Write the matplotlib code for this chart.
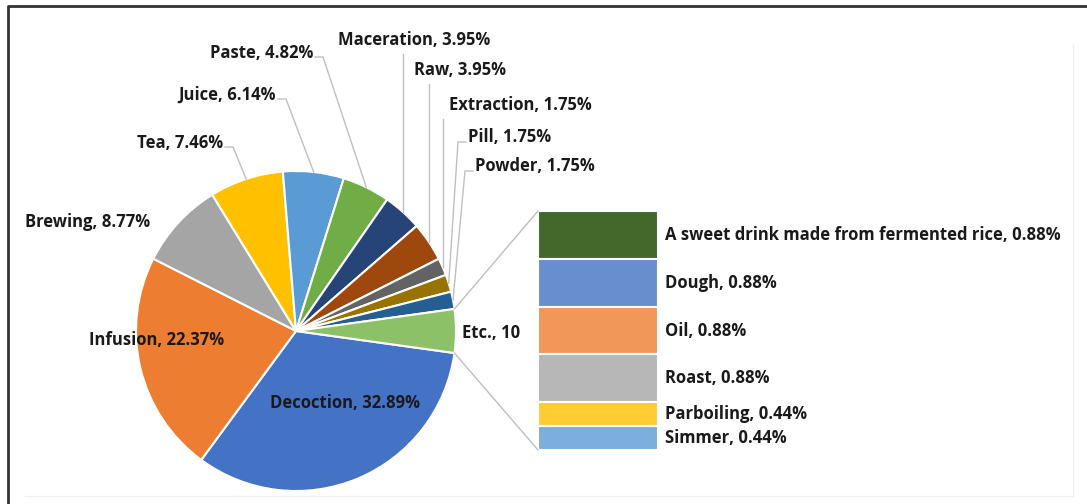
import matplotlib.pyplot as plt
import numpy as np

# pie data (clockwise from the right, "Etc." collects the small ones)
labels = ['Decoction', 'Infusion', 'Brewing', 'Tea', 'Juice', 'Paste',
          'Maceration', 'Raw', 'Extraction', 'Pill', 'Powder', 'Etc.']
values = [32.89, 22.37, 8.77, 7.46, 6.14, 4.82, 3.95, 3.95, 1.75, 1.75, 1.75, 4.40]
pie_texts = ['Decoction, 32.89%', 'Infusion, 22.37%', 'Brewing, 8.77%', 'Tea, 7.46%',
             'Juice, 6.14%', 'Paste, 4.82%', 'Maceration, 3.95%', 'Raw, 3.95%',
             'Extraction, 1.75%', 'Pill, 1.75%', 'Powder, 1.75%', 'Etc., 10']
pie_colors = ['#4472C4', '#ED7D31', '#A5A5A5', '#FFC000', '#5B9BD5', '#70AD47',
              '#264478', '#9E480E', '#636363', '#997300', '#255E91', '#8CC168']

# bar data (breakdown of Etc.)
etc_labels = ['A sweet drink made from fermented rice', 'Dough', 'Oil', 'Roast',
              'Parboiling', 'Simmer']
etc_values = [0.88, 0.88, 0.88, 0.88, 0.44, 0.44]
etc_colors = ['#43682B', '#698ED0', '#F1975A', '#B7B7B7', '#FFCD33', '#7CAFDD']

W, H = 1087, 504
plt.rcParams['font.family'] = ['Open Sans', 'DejaVu Sans']
fig = plt.figure(figsize=(W / 100, H / 100), dpi=100)
ax = fig.add_axes([0, 0, 1, 1])


def P(x, y):
    # pixel (top-left origin) -> data
    return x, H - y


cx, cy = P(296, 331)
r = 160
etc_span = values[-1] / sum(values) * 360
start = -etc_span / 2
wedges, _ = ax.pie(values, colors=pie_colors, startangle=start, counterclock=False,
                   radius=r, center=(cx, cy), frame=True,
                   wedgeprops=dict(edgecolor='white', linewidth=1.5))
ax.set_xlim(0, W)
ax.set_ylim(0, H)
ax.set_aspect('equal')
ax.axis('off')

# mid angles of wedges
mids = [(w.theta1 + w.theta2) / 2 for w in wedges]


def edge(i, rr=r):
    a = np.deg2rad(mids[i])
    return cx + rr * np.cos(a), cy + rr * np.sin(a)


fs = 12
lab_kw = dict(fontsize=fs, fontweight='bold', color='#1a1a1a', va='center')
line_kw = dict(color='#bfbfbf', lw=1)

# inside / free labels
ax.text(*P(345, 403), pie_texts[0], ha='center', **lab_kw)
ax.text(*P(157, 340), pie_texts[1], ha='center', **lab_kw)
ax.text(*P(88, 222), pie_texts[2], ha='center', **lab_kw)
ax.text(*P(462, 333), pie_texts[11], ha='left', **lab_kw)

# left-side labels with leader lines (label right end, y)
for i, (xr, yl) in zip([3, 4, 5], [(223, 143), (276, 95), (313, 53)]):
    ax.text(*P(xr, yl), pie_texts[i], ha='right', **lab_kw)
    ex, ey = edge(i)
    x0, y0 = P(xr + 2, yl + 4)
    ax.plot([x0, x0 + 8, ex], [y0, y0, ey], **line_kw)

# top labels with vertical leader lines (label left, y)
for i, (xl, yl) in zip([6, 7, 8], [(338, 40), (414, 70), (449, 105)]):
    ax.text(*P(xl, yl), pie_texts[i], ha='left', **lab_kw)
    ex, ey = edge(i)
    ax.plot([ex, ex], [P(0, yl + 14)[1], ey], **line_kw)

# small labels with a short stub to the left
for i, (xl, yl), xs in zip([9, 10], [(468, 137), (475, 166)], [458, 465]):
    ax.text(*P(xl, yl), pie_texts[i], ha='left', **lab_kw)
    ex, ey = edge(i)
    x0, y0 = P(xl - 2, yl + 5)
    x1, _ = P(xs, 0)
    ax.plot([x0, x1, ex], [y0, y0, ey], **line_kw)

# stacked bar for Etc.
bx0, bx1 = 538, 658
btop, bbot = P(0, 211)[1], P(0, 450)[1]
scale = (btop - bbot) / sum(etc_values)
tops = btop - np.concatenate([[0], np.cumsum(etc_values)[:-1]]) * scale
heights = np.array(etc_values) * scale
ax.bar((bx0 + bx1) / 2, -heights, width=bx1 - bx0, bottom=tops, color=etc_colors,
       edgecolor='white', linewidth=1.5)
for t, h, lab, v in zip(tops, heights, etc_labels, etc_values):
    ax.text(bx1 + 7, t - h / 2, f'{lab}, {v:.2f}%', ha='left', **lab_kw)

# connector lines from Etc. wedge to bar
a1, a2 = np.deg2rad(wedges[-1].theta1), np.deg2rad(wedges[-1].theta2)
ax.plot([cx + r * np.cos(a2), bx0], [cy + r * np.sin(a2), btop], **line_kw)
ax.plot([cx + r * np.cos(a1), bx0], [cy + r * np.sin(a1), bbot], **line_kw)

# frame
ax.plot([8, 8, W], [0, H - 6, H - 6], color='#333333', lw=2, clip_on=False)
ax.plot([1073, 1073], [8, H - 44], color='#f0f0f0', lw=1)
ax.plot([25, 1073], [8, 8], color='#f0f0f0', lw=1)

fig.savefig('out.png', dpi=100)
